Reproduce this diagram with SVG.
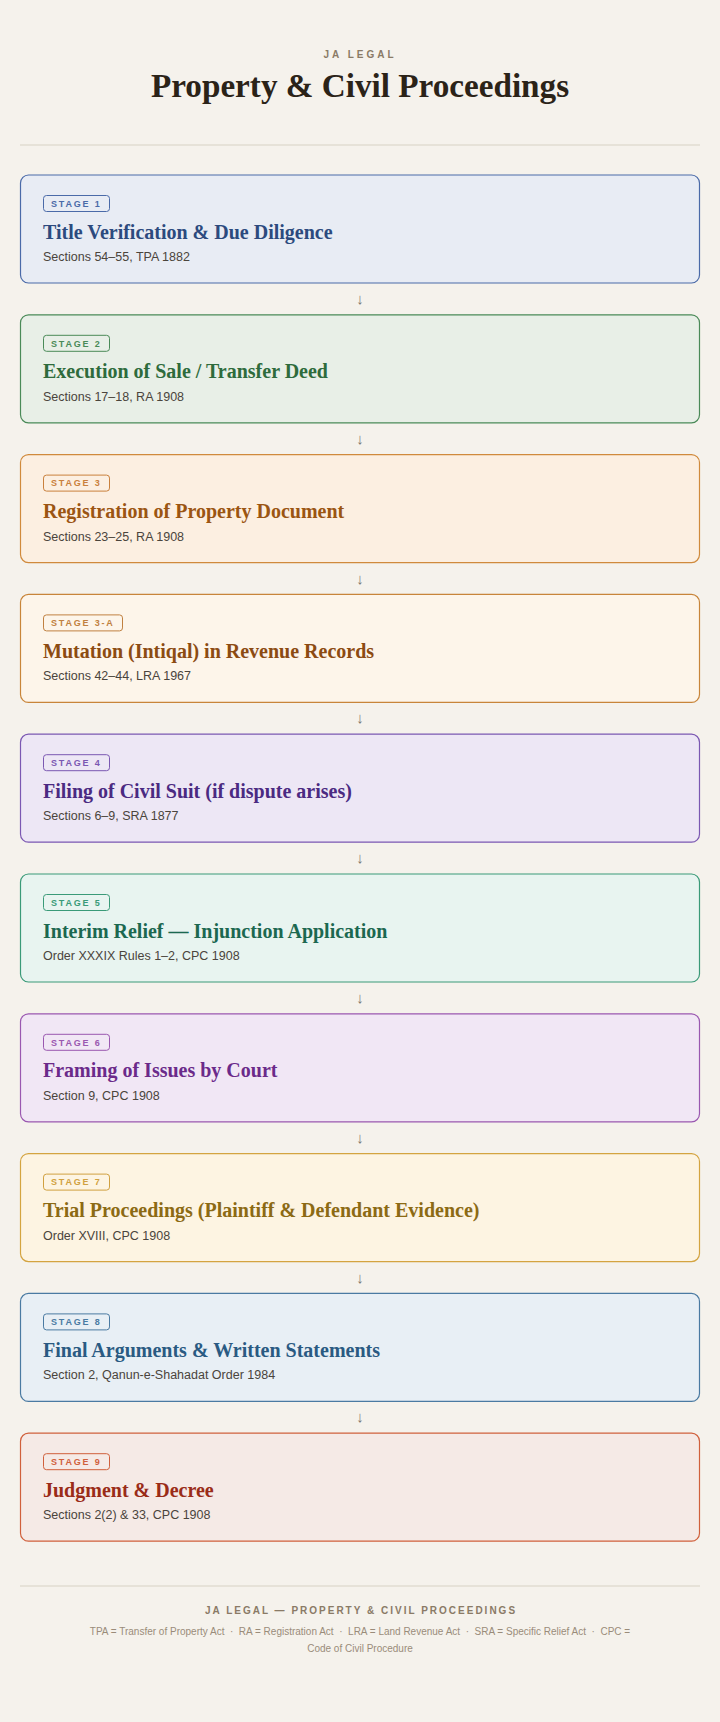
<svg xmlns="http://www.w3.org/2000/svg" width="720" height="1722" viewBox="0 0 720 1722">
<style>
.bg{fill:#f5f2ec}
.card{stroke-width:1.2}
.badge{fill:none;stroke-width:1}
.bt{font-family:"Liberation Sans",Arial,sans-serif;font-size:9px;font-weight:700;letter-spacing:1.8px}
.tt{font-family:"Liberation Serif","Times New Roman",serif;font-size:20px;font-weight:700}
.st{font-family:"Liberation Sans",Arial,sans-serif;font-size:12.5px;fill:#4a443c}
.arr{font-family:"Liberation Sans",Arial,sans-serif;font-size:15px;fill:#7c7870;text-anchor:middle}
.rule{stroke:#d8d1c4;stroke-width:1.2}
</style>
<rect class="bg" x="0" y="0" width="720" height="1722"/>
<g id="header">
<text x="360" y="57.7" text-anchor="middle" font-family="Liberation Sans, Arial, sans-serif" font-size="10" font-weight="700" letter-spacing="3" fill="#8a7a66">JA LEGAL</text>
<text x="360" y="96.7" text-anchor="middle" font-family="Liberation Serif, Times New Roman, serif" font-size="33.2" font-weight="700" fill="#2b2318">Property &amp; Civil Proceedings</text>
<line class="rule" x1="20" y1="145" x2="700" y2="145"/>
</g>
<g id="connectors">
<text class="arr" x="360" y="304">↓</text>
<text class="arr" x="360" y="443.8">↓</text>
<text class="arr" x="360" y="583.6">↓</text>
<text class="arr" x="360" y="723.4">↓</text>
<text class="arr" x="360" y="863.2">↓</text>
<text class="arr" x="360" y="1003">↓</text>
<text class="arr" x="360" y="1142.8">↓</text>
<text class="arr" x="360" y="1282.6">↓</text>
<text class="arr" x="360" y="1422.4">↓</text>
</g>
<g id="stage1" transform="translate(0,174.5)">
<rect class="card" x="20.5" y="0.5" width="679" height="108" rx="8" fill="#e8ecf4" stroke="#4a6aa8"/>
<rect class="badge" x="43.5" y="21" width="66" height="16" rx="3" stroke="#4a6aa8"/>
<text class="bt" x="51" y="32.3" fill="#4a6aa8">STAGE 1</text>
<text class="tt" x="43" y="64" fill="#2c4a7e">Title Verification &amp; Due Diligence</text>
<text class="st" x="43" y="86.5">Sections 54–55, TPA 1882</text>
</g>
<g id="stage2" transform="translate(0,314.3)">
<rect class="card" x="20.5" y="0.5" width="679" height="108" rx="8" fill="#e8efe7" stroke="#4a8a58"/>
<rect class="badge" x="43.5" y="21" width="66" height="16" rx="3" stroke="#4a8a58"/>
<text class="bt" x="51" y="32.3" fill="#4a8a58">STAGE 2</text>
<text class="tt" x="43" y="64" fill="#2e6b3c">Execution of Sale / Transfer Deed</text>
<text class="st" x="43" y="86.5">Sections 17–18, RA 1908</text>
</g>
<g id="stage3" transform="translate(0,454.1)">
<rect class="card" x="20.5" y="0.5" width="679" height="108" rx="8" fill="#fcefe1" stroke="#d08a3c"/>
<rect class="badge" x="43.5" y="21" width="66" height="16" rx="3" stroke="#c9803c"/>
<text class="bt" x="51" y="32.3" fill="#c9803c">STAGE 3</text>
<text class="tt" x="43" y="64" fill="#9b5512">Registration of Property Document</text>
<text class="st" x="43" y="86.5">Sections 23–25, RA 1908</text>
</g>
<g id="stage3a" transform="translate(0,593.9)">
<rect class="card" x="20.5" y="0.5" width="679" height="108" rx="8" fill="#fdf5ea" stroke="#c8853a"/>
<rect class="badge" x="43.5" y="21" width="79" height="16" rx="3" stroke="#c08040"/>
<text class="bt" x="51" y="32.3" fill="#c08040">STAGE 3-A</text>
<text class="tt" x="43" y="64" fill="#8c4b12">Mutation (Intiqal) in Revenue Records</text>
<text class="st" x="43" y="86.5">Sections 42–44, LRA 1967</text>
</g>
<g id="stage4" transform="translate(0,733.7)">
<rect class="card" x="20.5" y="0.5" width="679" height="108" rx="8" fill="#ede7f5" stroke="#7b58b2"/>
<rect class="badge" x="43.5" y="21" width="66" height="16" rx="3" stroke="#7b58b2"/>
<text class="bt" x="51" y="32.3" fill="#7b58b2">STAGE 4</text>
<text class="tt" x="43" y="64" fill="#4b2a82">Filing of Civil Suit (if dispute arises)</text>
<text class="st" x="43" y="86.5">Sections 6–9, SRA 1877</text>
</g>
<g id="stage5" transform="translate(0,873.5)">
<rect class="card" x="20.5" y="0.5" width="679" height="108" rx="8" fill="#e8f4f0" stroke="#3a9a78"/>
<rect class="badge" x="43.5" y="21" width="66" height="16" rx="3" stroke="#3a9a78"/>
<text class="bt" x="51" y="32.3" fill="#3a9a78">STAGE 5</text>
<text class="tt" x="43" y="64" fill="#1c6850">Interim Relief — Injunction Application</text>
<text class="st" x="43" y="86.5">Order XXXIX Rules 1–2, CPC 1908</text>
</g>
<g id="stage6" transform="translate(0,1013.3)">
<rect class="card" x="20.5" y="0.5" width="679" height="108" rx="8" fill="#f1e7f5" stroke="#9a58b0"/>
<rect class="badge" x="43.5" y="21" width="66" height="16" rx="3" stroke="#9a58b0"/>
<text class="bt" x="51" y="32.3" fill="#9a58b0">STAGE 6</text>
<text class="tt" x="43" y="64" fill="#6b2a8a">Framing of Issues by Court</text>
<text class="st" x="43" y="86.5">Section 9, CPC 1908</text>
</g>
<g id="stage7" transform="translate(0,1153.1)">
<rect class="card" x="20.5" y="0.5" width="679" height="108" rx="8" fill="#fdf4e2" stroke="#d4a440"/>
<rect class="badge" x="43.5" y="21" width="66" height="16" rx="3" stroke="#d0a040"/>
<text class="bt" x="51" y="32.3" fill="#d0a040">STAGE 7</text>
<text class="tt" x="43" y="64" fill="#8c6a14">Trial Proceedings (Plaintiff &amp; Defendant Evidence)</text>
<text class="st" x="43" y="86.5">Order XVIII, CPC 1908</text>
</g>
<g id="stage8" transform="translate(0,1292.9)">
<rect class="card" x="20.5" y="0.5" width="679" height="108" rx="8" fill="#e8eff5" stroke="#4a7aa2"/>
<rect class="badge" x="43.5" y="21" width="66" height="16" rx="3" stroke="#4a7aa2"/>
<text class="bt" x="51" y="32.3" fill="#4a7aa2">STAGE 8</text>
<text class="tt" x="43" y="64" fill="#2a5a82">Final Arguments &amp; Written Statements</text>
<text class="st" x="43" y="86.5">Section 2, Qanun-e-Shahadat Order 1984</text>
</g>
<g id="stage9" transform="translate(0,1432.7)">
<rect class="card" x="20.5" y="0.5" width="679" height="108" rx="8" fill="#f5eae6" stroke="#d0603c"/>
<rect class="badge" x="43.5" y="21" width="66" height="16" rx="3" stroke="#d0603c"/>
<text class="bt" x="51" y="32.3" fill="#d0603c">STAGE 9</text>
<text class="tt" x="43" y="64" fill="#9a2c18">Judgment &amp; Decree</text>
<text class="st" x="43" y="86.5">Sections 2(2) &amp; 33, CPC 1908</text>
</g>
<g id="footer">
<line class="rule" x1="20" y1="1586" x2="700" y2="1586"/>
<text x="361" y="1613.7" text-anchor="middle" font-family="Liberation Sans, Arial, sans-serif" font-size="10" font-weight="700" letter-spacing="2" fill="#8a7a66">JA LEGAL — PROPERTY &amp; CIVIL PROCEEDINGS</text>
<text x="360" y="1635.3" text-anchor="middle" font-family="Liberation Sans, Arial, sans-serif" font-size="10" fill="#9a8c7a">TPA = Transfer of Property Act &#160;·&#160; RA = Registration Act &#160;·&#160; LRA = Land Revenue Act &#160;·&#160; SRA = Specific Relief Act &#160;·&#160; CPC =</text>
<text x="360" y="1652.3" text-anchor="middle" font-family="Liberation Sans, Arial, sans-serif" font-size="10" fill="#9a8c7a">Code of Civil Procedure</text>
</g>
</svg>
